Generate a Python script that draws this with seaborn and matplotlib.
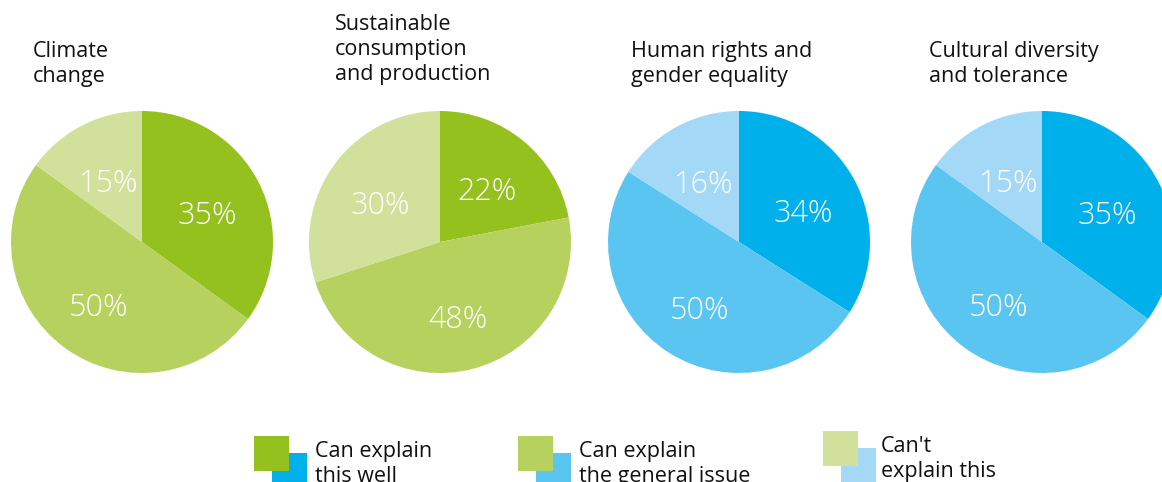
import matplotlib
matplotlib.use("Agg")
import matplotlib.pyplot as plt
import seaborn as sns
from matplotlib.patches import Rectangle

# --- Data ---
titles = [
    "Climate\nchange",
    "Sustainable\nconsumption\nand production",
    "Human rights and\ngender equality",
    "Cultural diversity\nand tolerance",
]
explain_well = [35, 22, 34, 35]
explain_general = [50, 48, 50, 50]
cant_explain = [15, 30, 16, 15]
legend_labels = ["Can explain\nthis well", "Can explain\nthe general issue", "Can't\nexplain this"]

# --- Style ---
sns.set_theme(style="white")
plt.rcParams['font.family'] = ['Open Sans', 'DejaVu Sans']

greens = sns.color_palette(["#95c11f", "#b6d15e", "#d1e09b"])
blues = sns.color_palette(["#00b0ea", "#5bc5f1", "#a3d9f6"])
pie_palettes = [greens, greens, blues, blues]

W, H = 1162, 482
centers_x = [142, 440, 739, 1042]
center_y = 242
radius = 131

fig = plt.figure(figsize=(W / 100, H / 100), dpi=100)
ax = fig.add_axes([0, 0, 1, 1])

for i, cx in enumerate(centers_x):
    vals = [explain_well[i], explain_general[i], cant_explain[i]]
    wedges, texts, autotexts = ax.pie(
        vals,
        colors=pie_palettes[i],
        startangle=90,
        counterclock=False,
        center=(cx, H - center_y),
        radius=radius,
        autopct=lambda p: f"{p:.0f}%",
        pctdistance=0.56,
        wedgeprops=dict(linewidth=0),
        textprops=dict(color="white", fontsize=22, fontweight="light"),
    )
    # labels sit a little lower than the wedge centroid in the original
    for t in autotexts:
        x, y = t.get_position()
        t.set_position((x, y - 7))

# titles
title_x = [33, 335, 631, 929]
for t, tx in zip(titles, title_x):
    n_lines = t.count("\n") + 1
    top = 95 - 27 * n_lines
    ax.text(tx, H - top, t, ha="left", va="top", fontsize=15.5,
            color="#111111", linespacing=1.26)

# legend
legend_spec = [
    # (green x, green top, blue x, blue top, text x)
    (254, 436, 272, 453, 315),
    (518, 436, 536, 453, 579),
    (823, 431, 841, 448, 881),
]
sq = 35
for k, (gx, gy, bx, by, tx) in enumerate(legend_spec):
    ax.add_patch(Rectangle((bx, H - by - sq), sq, sq, color=blues[k], lw=0, zorder=3))
    ax.add_patch(Rectangle((gx, H - gy - sq), sq, sq, color=greens[k], lw=0, zorder=4))
    ax.text(tx, H - gy - 5, legend_labels[k], ha="left", va="top", fontsize=15.5,
            color="#111111", linespacing=1.22)

ax.set_xlim(0, W)
ax.set_ylim(0, H)
ax.set_aspect("equal")
ax.axis("off")

fig.savefig("out.png", dpi=100)
